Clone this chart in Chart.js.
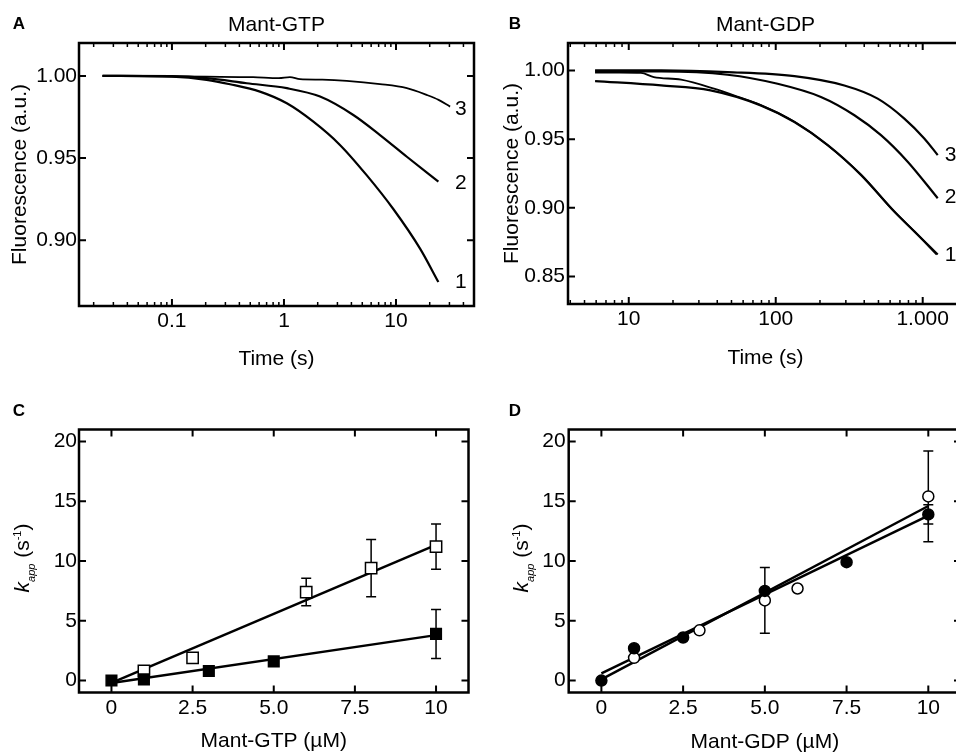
<!DOCTYPE html>
<html>
<head>
<meta charset="utf-8">
<script src="https://cdn.jsdelivr.net/npm/chart.js@4.4.1/dist/chart.umd.min.js"></script>
<style>
  html, body { margin: 0; padding: 0; background: #fff; overflow: hidden; width: 956px; height: 755px; }
  canvas { position: absolute; }
</style>
</head>
<body>
<canvas id="chartA" width="478" height="380" style="left:0;top:0"></canvas>
<canvas id="chartB" width="490" height="380" style="left:478px;top:0"></canvas>
<canvas id="chartC" width="478" height="375" style="left:0;top:380px"></canvas>
<canvas id="chartD" width="490" height="375" style="left:478px;top:380px"></canvas>
<script>
// ---- Panel A: Mant-GTP traces (time in s, fluorescence a.u.) ----
const aTime1 = [0.024, 0.1, 0.204, 0.33, 0.61, 1.06, 1.83, 3.16, 5.47, 9.46, 16.4, 23.9];
const aFluor1 = [1.000, 0.9995, 0.9976, 0.9949, 0.9904, 0.9833, 0.9721, 0.958, 0.9396, 0.919, 0.8949, 0.8746];
const aTime2 = [0.024, 0.1, 0.204, 0.465, 1.06, 2.1, 4.16, 7.2, 12.5, 23.9];
const aFluor2 = [1.000, 0.9998, 0.9986, 0.9955, 0.9925, 0.9874, 0.9762, 0.964, 0.9508, 0.9356];
const aTime3 = [0.024, 0.204, 0.53, 0.9, 1.13, 1.39, 2.2, 3.63, 7.2, 12.5, 18.8, 24, 30.4];
const aFluor3 = [1.000, 0.9995, 0.9992, 0.9986, 0.9992, 0.998, 0.9977, 0.997, 0.995, 0.9925, 0.9884, 0.9854, 0.9813];
const aXTickValues = [0.1, 1, 10];
const aXTickLabels = ['0.1', '1', '10'];
const aYTickValues = [0.90, 0.95, 1.00];
const aYTickLabels = ['0.90', '0.95', '1.00'];
const aCurveNames = ['1', '2', '3'];
const aCurveNameY = [0.8745, 0.935, 0.9799];

// ---- Panel B: Mant-GDP traces ----
const bTime1Data = [5.9, 8.4, 12.1, 14.8, 22.7, 38, 55, 79, 134, 226, 380, 641, 877, 1240];
const bFluor1Data = [0.9985, 0.9984, 0.9982, 0.9952, 0.9933, 0.9868, 0.981, 0.9748, 0.9627, 0.9455, 0.9242, 0.8972, 0.883, 0.8662];
const bTime1Fit = [5.9, 16.6, 36, 79, 134, 226, 380, 641, 877, 1265];
const bFluor1Fit = [0.9923, 0.9891, 0.9855, 0.9746, 0.9625, 0.9457, 0.924, 0.8973, 0.8828, 0.866];
const bTime2 = [5.9, 16.6, 47, 103, 203, 343, 520, 790, 1265];
const bFluor2 = [0.9993, 0.9993, 0.9969, 0.9903, 0.9807, 0.9674, 0.9529, 0.9336, 0.907];
const bTime3 = [5.9, 16.6, 47, 134, 293, 494, 750, 1025, 1265];
const bFluor3 = [1.000, 1.000, 0.9988, 0.9959, 0.9891, 0.9795, 0.965, 0.9505, 0.9384];
const bXTickValues = [10, 100, 1000];
const bXTickLabels = ['10', '100', '1.000'];
const bYTickValues = [0.85, 0.90, 0.95, 1.00];
const bYTickLabels = ['0.85', '0.90', '0.95', '1.00'];
const bCurveNames = ['1', '2', '3'];
const bCurveNameY = [0.8654, 0.9076, 0.9384];

// ---- Panel C: k_app vs Mant-GTP ----
const cOpenConc = [1, 2.5, 6, 8, 10];
const cOpenK = [0.8, 1.9, 7.4, 9.4, 11.2];
const cOpenErr = [0, 0, 1.15, 2.4, 1.9];
const cFilledConc = [0, 1, 3, 5, 10];
const cFilledK = [0, 0.1, 0.8, 1.6, 3.9];
const cFilledErr = [0, 0, 0, 0, 2.05];
const cFitConc = [0, 10];
const cOpenFit = [-0.2, 11.35];
const cFilledFit = [-0.2, 3.8];

// ---- Panel D: k_app vs Mant-GDP ----
const dFilledConc = [0, 1, 2.5, 5, 7.5, 10];
const dFilledK = [0, 2.7, 3.6, 7.5, 9.9, 13.9];
const dFilledErr = [0, 0, 0, 0, 0, 0.8];
const dOpenConc = [1, 3, 5, 6, 10];
const dOpenK = [1.9, 4.2, 6.7, 7.7, 15.4];
const dOpenErr = [0, 0, 2.75, 0, 3.8];
const dFitConc = [0, 10];
const dFitA = [0.6, 13.8];
const dFitB = [0.1, 14.6];

const concTickValues = [0, 2.5, 5, 7.5, 10];
const concTickLabels = ['0', '2.5', '5.0', '7.5', '10'];
const kTickValues = [0, 5, 10, 15, 20];
const kTickLabels = ['0', '5', '10', '15', '20'];

const FONT = '"Liberation Sans", Arial, Helvetica, sans-serif';
Chart.defaults.font.family = FONT;
Chart.defaults.font.size = 21;
Chart.defaults.color = '#000';
Chart.defaults.animation = false;
Chart.defaults.events = [];
Chart.defaults.plugins.legend.display = false;
Chart.defaults.plugins.tooltip.enabled = false;

function toPoints(xs, ys) {
    return xs.map((x, i) => ({ x: x, y: ys[i] }));
}

function logTickValues(min, max) {
    const out = [];
    for (let e = Math.floor(Math.log10(min)); e <= Math.ceil(Math.log10(max)); e++) {
        for (let m = 1; m <= 9; m++) {
            const v = parseFloat((m * Math.pow(10, e)).toPrecision(6));
            if (v >= min && v <= max) out.push(v);
        }
    }
    return out;
}

function tickLabel(values, labels) {
    return function(value) {
        const i = values.findIndex(v => Math.abs(v - value) < 1e-9 * Math.max(1, Math.abs(v)));
        return i >= 0 ? labels[i] : '';
    };
}

function curve(xs, ys, width) {
    return {
        data: toPoints(xs, ys),
        showLine: true,
        pointRadius: 0,
        borderColor: '#000',
        borderWidth: width || 2.2,
        cubicInterpolationMode: 'monotone'
    };
}

function fitLine(xs, ys) {
    return { data: toPoints(xs, ys), showLine: true, pointRadius: 0, borderColor: '#000', borderWidth: 2.5 };
}

function markers(xs, ys, style, filled, radius) {
    return {
        data: toPoints(xs, ys),
        showLine: false,
        pointStyle: style,
        pointRadius: radius,
        pointBackgroundColor: filled ? '#000' : '#fff',
        pointBorderColor: '#000',
        pointBorderWidth: 1.5
    };
}

function axis(opts) {
    return {
        type: opts.type || 'linear',
        min: opts.min,
        max: opts.max,
        afterFit: s => {
            if (opts.size == null) return;
            if (s.isHorizontal()) s.height = opts.size; else s.width = opts.size;
        },
        afterBuildTicks: s => { s.ticks = opts.tickValues.map(v => ({ value: v })); },
        grid: { display: false, drawTicks: false },
        border: { display: false },
        ticks: { autoSkip: false, maxRotation: 0, padding: opts.tickPad, callback: tickLabel(opts.labelValues, opts.labels) },
        title: opts.title ? { display: true, text: opts.title, padding: opts.titlePad } : { display: false }
    };
}

// frame with inward ticks, panel letter, curve numbers, error bars and the k_app title
function panelDecor(cfg) {
    return {
        id: 'panelDecor',
        beforeDatasetsDraw(chart) {
            if (!cfg.errorBars) return;
            const { ctx, scales: { x, y } } = chart;
            ctx.save();
            ctx.strokeStyle = '#000';
            ctx.lineWidth = 1.5;
            cfg.errorBars.forEach(set => {
                set.xs.forEach((xv, i) => {
                    const e = set.errs[i];
                    if (!e) return;
                    const px = x.getPixelForValue(xv);
                    const top = y.getPixelForValue(set.ys[i] + e);
                    const bot = y.getPixelForValue(set.ys[i] - e);
                    ctx.beginPath();
                    ctx.moveTo(px, top); ctx.lineTo(px, bot);
                    ctx.moveTo(px - 5, top); ctx.lineTo(px + 5, top);
                    ctx.moveTo(px - 5, bot); ctx.lineTo(px + 5, bot);
                    ctx.stroke();
                });
            });
            ctx.restore();
        },
        afterDraw(chart) {
            const { ctx, chartArea: a, scales } = chart;
            ctx.save();
            ctx.strokeStyle = '#000';
            ['x', 'y'].forEach(id => {
                const s = scales[id];
                const majors = cfg[id + 'Major'];
                s.ticks.forEach(t => {
                    const p = s.getPixelForValue(t.value);
                    const major = majors.includes(t.value);
                    const len = major ? 7 : 4;
                    ctx.lineWidth = major ? 2 : 1.5;
                    ctx.beginPath();
                    if (id === 'x') {
                        ctx.moveTo(p, a.bottom); ctx.lineTo(p, a.bottom - len);
                        ctx.moveTo(p, a.top); ctx.lineTo(p, a.top + len);
                    } else {
                        ctx.moveTo(a.left, p); ctx.lineTo(a.left + len, p);
                        ctx.moveTo(a.right, p); ctx.lineTo(a.right - len, p);
                    }
                    ctx.stroke();
                });
            });
            ctx.lineWidth = 2.5;
            ctx.strokeRect(a.left, a.top, a.right - a.left, a.bottom - a.top);

            ctx.fillStyle = '#000';
            ctx.textAlign = 'center';
            ctx.textBaseline = 'middle';
            ctx.font = 'bold 17px ' + FONT;
            ctx.fillText(cfg.letter, cfg.letterX, cfg.letterY);

            if (cfg.curveNames) {
                ctx.font = '21px ' + FONT;
                cfg.curveNames.forEach((name, i) => {
                    ctx.fillText(name, scales.x.getPixelForValue(cfg.curveNameX), scales.y.getPixelForValue(cfg.curveNameY[i]));
                });
            }

            if (cfg.kTitleX) {
                const parts = [
                    ['k', 'italic 21px ' + FONT, 0],
                    ['app', 'italic 11px ' + FONT, 6],
                    [' (s', '21px ' + FONT, 0],
                    ['-1', '11px ' + FONT, -8],
                    [')', '21px ' + FONT, 0]
                ];
                let total = 0;
                parts.forEach(p => { ctx.font = p[1]; total += ctx.measureText(p[0]).width; });
                ctx.translate(cfg.kTitleX, (a.top + a.bottom) / 2 - 3);
                ctx.rotate(-Math.PI / 2);
                ctx.textAlign = 'left';
                ctx.textBaseline = 'alphabetic';
                let pos = -total / 2;
                parts.forEach(p => {
                    ctx.font = p[1];
                    ctx.fillText(p[0], pos, p[2]);
                    pos += ctx.measureText(p[0]).width;
                });
            }
            ctx.restore();
        }
    };
}

// ---- A ----
const aXMin = 0.0148, aXMax = 49.7;
new Chart(document.getElementById('chartA'), {
    type: 'scatter',
    data: { datasets: [curve(aTime1, aFluor1), curve(aTime2, aFluor2), curve(aTime3, aFluor3, 1.8)] },
    options: {
        responsive: false,
        layout: { padding: { left: 0, right: 4, top: 0, bottom: 0 } },
        plugins: {
            title: { display: true, text: 'Mant-GTP', fullSize: false, font: { size: 21, weight: 'normal' }, padding: { top: 13, bottom: 4.8 } }
        },
        scales: {
            x: axis({ type: 'logarithmic', min: aXMin, max: aXMax, size: 74, tickValues: logTickValues(aXMin, aXMax),
                labelValues: aXTickValues, labels: aXTickLabels, tickPad: 3, title: 'Time (s)', titlePad: { top: 0, bottom: 8.4 } }),
            y: axis({ min: 0.86, max: 1.02, size: 79, tickValues: aYTickValues, labelValues: aYTickValues, labels: aYTickLabels,
                tickPad: 2, title: 'Fluorescence (a.u.)', titlePad: { top: 8, bottom: 0 } })
        }
    },
    plugins: [panelDecor({ xMajor: aXTickValues, yMajor: aYTickValues, letter: 'A', letterX: 19, letterY: 24.5,
        curveNames: aCurveNames, curveNameX: 38, curveNameY: aCurveNameY })]
});

// ---- B ----
const bXMin = 3.86, bXMax = 1880;
new Chart(document.getElementById('chartB'), {
    type: 'scatter',
    data: { datasets: [curve(bTime1Data, bFluor1Data, 1.8), curve(bTime1Fit, bFluor1Fit), curve(bTime2, bFluor2), curve(bTime3, bFluor3)] },
    options: {
        responsive: false,
        layout: { padding: { left: 0, right: 5, top: 0, bottom: 0 } },
        plugins: {
            title: { display: true, text: 'Mant-GDP', fullSize: false, font: { size: 21, weight: 'normal' }, padding: { top: 13, bottom: 4.8 } }
        },
        scales: {
            x: axis({ type: 'logarithmic', min: bXMin, max: bXMax, size: 76, tickValues: logTickValues(bXMin, bXMax),
                labelValues: bXTickValues, labels: bXTickLabels, tickPad: 3, title: 'Time (s)', titlePad: { top: 0, bottom: 9 } }),
            y: axis({ min: 0.83, max: 1.02, size: 90, tickValues: bYTickValues, labelValues: bYTickValues, labels: bYTickLabels,
                tickPad: 3, title: 'Fluorescence (a.u.)', titlePad: { top: 21.4, bottom: 0 } })
        }
    },
    plugins: [panelDecor({ xMajor: bXTickValues, yMajor: bYTickValues, letter: 'B', letterX: 37, letterY: 24.5,
        curveNames: bCurveNames, curveNameX: 1549, curveNameY: bCurveNameY })]
});

// ---- C ----
new Chart(document.getElementById('chartC'), {
    type: 'scatter',
    data: { datasets: [
        markers(cFilledConc, cFilledK, 'rect', true, 7.5),
        markers(cOpenConc, cOpenK, 'rect', false, 8),
        fitLine(cFitConc, cOpenFit),
        fitLine(cFitConc, cFilledFit)
    ] },
    options: {
        responsive: false,
        layout: { padding: { left: 0, right: 4, top: 49.5, bottom: 0 } },
        scales: {
            x: axis({ min: -1, max: 11, size: 62.5, tickValues: concTickValues, labelValues: concTickValues, labels: concTickLabels,
                tickPad: 3, title: 'Mant-GTP (µM)', titlePad: { top: 0, bottom: 0.7 } }),
            y: axis({ min: -1, max: 21, size: 79, tickValues: kTickValues, labelValues: kTickValues, labels: kTickLabels, tickPad: 2 })
        }
    },
    plugins: [panelDecor({ xMajor: concTickValues, yMajor: kTickValues, letter: 'C', letterX: 19, letterY: 31.5, kTitleX: 28.5,
        errorBars: [{ xs: cOpenConc, ys: cOpenK, errs: cOpenErr }, { xs: cFilledConc, ys: cFilledK, errs: cFilledErr }] })]
});

// ---- D ----
new Chart(document.getElementById('chartD'), {
    type: 'scatter',
    data: { datasets: [
        markers(dFilledConc, dFilledK, 'circle', true, 5.5),
        markers(dOpenConc, dOpenK, 'circle', false, 5.5),
        fitLine(dFitConc, dFitA),
        fitLine(dFitConc, dFitB)
    ] },
    options: {
        responsive: false,
        layout: { padding: { left: 0, right: 4, top: 49.5, bottom: 0 } },
        scales: {
            x: axis({ min: -1, max: 11, size: 62.5, tickValues: concTickValues, labelValues: concTickValues, labels: concTickLabels,
                tickPad: 3, title: 'Mant-GDP (µM)', titlePad: { top: 0, bottom: 0.5 } }),
            y: axis({ min: -1, max: 21, size: 90.7, tickValues: kTickValues, labelValues: kTickValues, labels: kTickLabels, tickPad: 3 })
        }
    },
    plugins: [panelDecor({ xMajor: concTickValues, yMajor: kTickValues, letter: 'D', letterX: 37, letterY: 31.5, kTitleX: 50,
        errorBars: [{ xs: dOpenConc, ys: dOpenK, errs: dOpenErr }, { xs: dFilledConc, ys: dFilledK, errs: dFilledErr }] })]
});
</script>
</body>
</html>
